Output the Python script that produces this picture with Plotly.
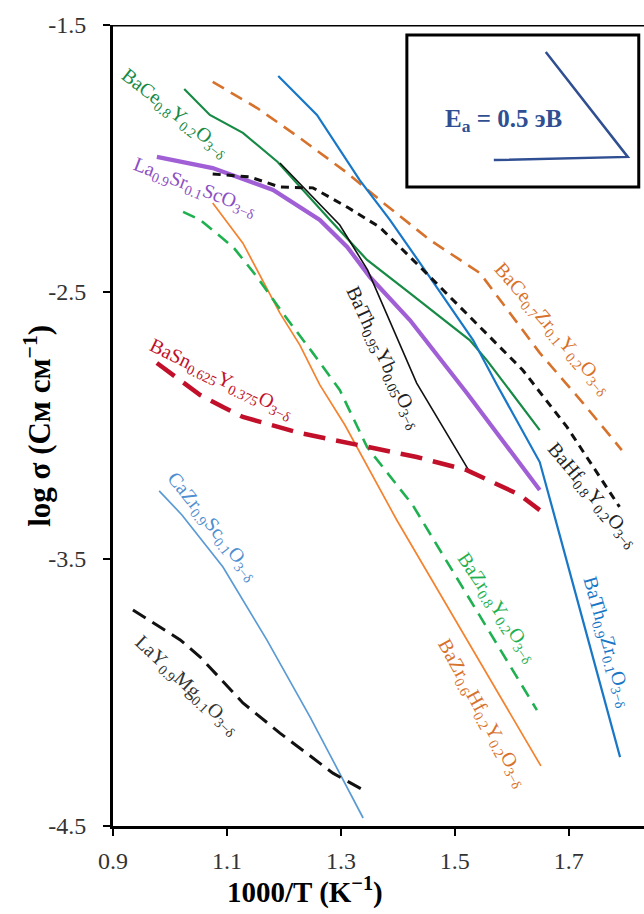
import plotly.graph_objects as go

# ---- data (1000/T, log sigma) ----
bace08_x = [1.025, 1.070, 1.128, 1.189, 1.281, 1.346, 1.421, 1.526, 1.556, 1.649]
bace08_y = [-1.740, -1.837, -1.904, -2.013, -2.230, -2.380, -2.504, -2.680, -2.755, -3.017]

bace07_x = [1.075, 1.153, 1.228, 1.311, 1.368, 1.456, 1.544, 1.649, 1.725, 1.793]
bace07_y = [-1.713, -1.811, -1.923, -2.054, -2.155, -2.305, -2.429, -2.728, -2.916, -3.092]

bath09_x = [1.190, 1.258, 1.333, 1.386, 1.456, 1.532, 1.574, 1.649, 1.672, 1.790]
bath09_y = [-1.691, -1.837, -2.081, -2.230, -2.444, -2.680, -2.848, -3.137, -3.316, -4.242]

lasr_x = [0.977, 1.075, 1.181, 1.263, 1.311, 1.351, 1.421, 1.521, 1.649]
lasr_y = [-1.994, -2.036, -2.118, -2.230, -2.331, -2.444, -2.605, -2.878, -3.242]

bahf_x = [1.075, 1.140, 1.193, 1.251, 1.311, 1.368, 1.439, 1.544, 1.619, 1.697, 1.789]
bahf_y = [-2.058, -2.069, -2.107, -2.110, -2.182, -2.257, -2.406, -2.631, -2.792, -3.006, -3.305]

bath095_x = [1.193, 1.298, 1.347, 1.433, 1.526]
bath095_y = [-2.017, -2.249, -2.418, -2.841, -3.174]

bazrhf_x = [1.075, 1.128, 1.193, 1.228, 1.263, 1.307, 1.398, 1.651]
bazrhf_y = [-2.167, -2.317, -2.579, -2.699, -2.848, -2.998, -3.354, -4.275]

bazr08_x = [1.023, 1.053, 1.111, 1.153, 1.198, 1.251, 1.298, 1.346, 1.426, 1.644]
bazr08_y = [-2.200, -2.230, -2.332, -2.444, -2.579, -2.729, -2.867, -3.081, -3.298, -4.066]

basn_x = [0.977, 1.018, 1.053, 1.093, 1.128, 1.228, 1.346, 1.433, 1.521, 1.614, 1.649]
basn_y = [-2.766, -2.830, -2.886, -2.931, -2.968, -3.028, -3.081, -3.118, -3.167, -3.260, -3.317]

cazr_x = [0.981, 1.021, 1.093, 1.170, 1.246, 1.339]
cazr_y = [-3.245, -3.335, -3.530, -3.803, -4.092, -4.470]

lay_x = [0.935, 1.018, 1.053, 1.128, 1.193, 1.286, 1.339]
lay_y = [-3.691, -3.803, -3.867, -4.039, -4.152, -4.302, -4.365]

x_ticks = [0.9, 1.1, 1.3, 1.5, 1.7]
y_ticks = [-1.5, -2.5, -3.5, -4.5]

SERIF = "Liberation Serif"

series = [
    (bace08_x, bace08_y, "#178a45", 2.2, "solid"),
    (bace07_x, bace07_y, "#d7722c", 2.6, "13px,8px"),
    (bath09_x, bath09_y, "#1877c6", 2.2, "solid"),
    (lasr_x, lasr_y, "#a15fd6", 4.2, "solid"),
    (bahf_x, bahf_y, "#111111", 3.0, "8px,6px"),
    (bath095_x, bath095_y, "#111111", 1.6, "solid"),
    (bazrhf_x, bazrhf_y, "#f4822e", 1.7, "solid"),
    (bazr08_x, bazr08_y, "#1fb050", 2.6, "13px,8px"),
    (basn_x, basn_y, "#c2102a", 4.5, "22px,11px"),
    (cazr_x, cazr_y, "#5b9bd5", 1.7, "solid"),
    (lay_x, lay_y, "#111111", 3.0, "15px,8px"),
]

fig = go.Figure()
for xs, ys, col, w, dash in series:
    fig.add_trace(go.Scatter(x=xs, y=ys, mode="lines",
                             line=dict(color=col, width=w, dash=dash),
                             showlegend=False, hoverinfo="skip"))

labels = [
    ("BaCe<sub>0.8</sub>Y<sub>0.2</sub>O<sub>3−δ</sub>", 1.009, -1.830, 38, "#178a45"),
    ("La<sub>0.9</sub>Sr<sub>0.1</sub>ScO<sub>3−δ</sub>", 1.044, -2.107, 21, "#8d4fc4"),
    ("BaSn<sub>0.625</sub>Y<sub>0.375</sub>O<sub>3−δ</sub>", 1.091, -2.826, 26, "#c2102a"),
    ("BaTh<sub>0.95</sub>Yb<sub>0.05</sub>O<sub>3−δ</sub>", 1.374, -2.747, 65, "#222222"),
    ("BaCe<sub>0.7</sub>Zr<sub>0.1</sub>Y<sub>0.2</sub>O<sub>3−δ</sub>", 1.672, -2.640, 49, "#d7722c"),
    ("BaHf<sub>0.8</sub>Y<sub>0.2</sub>O<sub>3−δ</sub>", 1.742, -3.262, 50, "#222222"),
    ("CaZr<sub>0.9</sub>Sc<sub>0.1</sub>O<sub>3−δ</sub>", 1.074, -3.380, 51, "#4f8fd0"),
    ("LaY<sub>0.9</sub>Mg<sub>0.1</sub>O<sub>3−δ</sub>", 1.030, -3.972, 43, "#333333"),
    ("BaZr<sub>0.8</sub>Y<sub>0.2</sub>O<sub>3−δ</sub>", 1.574, -3.680, 56, "#1fb050"),
    ("BaZr<sub>0.6</sub>Hf<sub>0.2</sub>Y<sub>0.2</sub>O<sub>3−δ</sub>", 1.549, -4.077, 61, "#d7722c"),
    ("BaTh<sub>0.9</sub>Zr<sub>0.1</sub>O<sub>3−δ</sub>", 1.768, -3.811, 74, "#1877c6"),
]
for txt, x, y, ang, col in labels:
    fig.add_annotation(x=x, y=y, xref="x", yref="y", text=txt, showarrow=False,
                       textangle=ang, xanchor="center", yanchor="middle",
                       font=dict(family=SERIF, size=20, color=col))

# inset box with activation energy triangle
fig.add_shape(type="rect", x0=1.4158, x1=1.8228, y0=-1.5375, y1=-2.1067,
              line=dict(color="black", width=3), fillcolor="white", layer="above")
fig.add_shape(type="path", path="M 1.6596,-1.601 L 1.8035,-1.994 L 1.5684,-2.0056",
              line=dict(color="#2f4f92", width=2.5), layer="above")
fig.add_annotation(x=1.586, y=-1.856, xref="x", yref="y", showarrow=False,
                   text="<b>E<sub>а</sub> = 0.5 эВ</b>",
                   font=dict(family=SERIF, size=25, color="#2f4f92"))

# top border
fig.add_shape(type="line", xref="paper", x0=0, x1=1, yref="y", y0=-1.5, y1=-1.5,
              line=dict(color="black", width=3))

# axis titles
fig.add_annotation(xref="paper", yref="paper", x=-0.183, y=0.50, showarrow=False,
                   text="<b>log σ (См см<sup>−1</sup>)</b>", textangle=-90,
                   font=dict(family=SERIF, size=31, color="black"))
fig.add_annotation(xref="paper", yref="paper", x=0.362, y=-0.106, showarrow=False,
                   text="<b>1000/T (K<sup>−1</sup>)</b>",
                   font=dict(family=SERIF, size=29, color="black"))

tickfont = dict(family=SERIF, size=24, color="#333333")
fig.update_layout(
    width=644, height=914,
    margin=dict(l=113, r=0, t=25, b=88),
    paper_bgcolor="white", plot_bgcolor="white",
    xaxis=dict(range=[0.9, 1.832], tickvals=x_ticks, ticktext=[f"{v:.1f}" for v in x_ticks],
               showgrid=False, zeroline=False, showline=True, linecolor="black",
               linewidth=3, ticks="outside", ticklen=7, tickwidth=2, tickcolor="black",
               ticklabelstandoff=4, tickfont=tickfont),
    yaxis=dict(range=[-4.5, -1.5], tickvals=y_ticks, ticktext=[f"{v:.1f}" for v in y_ticks],
               showgrid=False, zeroline=False, showline=True, linecolor="black",
               linewidth=3, ticks="outside", ticklen=7, tickwidth=2, tickcolor="black",
               ticklabelstandoff=12, tickfont=tickfont),
)

fig.write_html("out.html")
